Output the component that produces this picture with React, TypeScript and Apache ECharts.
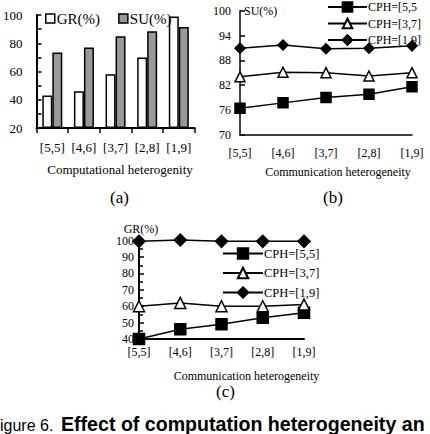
import React, { useEffect, useRef } from "react";
import * as echarts from "echarts";

// Panel (a): computational heterogeneity bar chart
const compCategories = ["[5,5]", "[4,6]", "[3,7]", "[2,8]", "[1,9]"];
const grValues = [43, 46, 58, 70, 99];
const suValues = [73.5, 77, 85, 88.5, 91.5];

// Panels (b) and (c): communication heterogeneity line charts
const commCategories = ["[5,5]", "[4,6]", "[3,7]", "[2,8]", "[1,9]"];

const suCph55 = [76.4, 77.7, 79.0, 79.8, 81.6];
const suCph37 = [84.0, 85.1, 85.0, 84.2, 85.0];
const suCph19 = [90.9, 91.7, 90.8, 90.9, 91.5];

const grCph55 = [40, 46, 49, 53, 56];
const grCph37 = [60, 62, 60, 60, 61];
const grCph19 = [99.6, 100.4, 99.6, 99.6, 99.6];

const suNames = ["CPH=[5,5", "CPH=[3,7]", "CPH=[1,9]"];
const grNames = ["CPH=[5,5]", "CPH=[3,7]", "CPH=[1,9]"];

const captionLead = "igure 6.";
const captionBold = "Effect of computation heterogeneity an";

const SERIF = "'Liberation Serif', 'Times New Roman', serif";
const SANS = "'Liberation Sans', Arial, sans-serif";
const BLACK = "#000";

const lineSeries = (
  name: string,
  data: number[],
  idx: number,
  symbol: string,
  size: number,
  fill: string
) => ({
  type: "line",
  name,
  data,
  xAxisIndex: idx,
  yAxisIndex: idx,
  symbol,
  symbolSize: size,
  showSymbol: true,
  clip: false,
  lineStyle: { color: BLACK, width: 1.5 },
  itemStyle: { color: fill, borderColor: BLACK, borderWidth: 1.5 },
  emphasis: { disabled: true },
});

export default function App() {
  const ref = useRef<HTMLDivElement>(null);

  useEffect(() => {
    if (!ref.current) return;
    const chart = echarts.init(ref.current, null, { renderer: "svg" });

    const yAxisCommon = {
      type: "value",
      axisLine: { show: true, lineStyle: { color: BLACK, width: 2 } },
      axisTick: { show: true, inside: true, length: 5, lineStyle: { color: BLACK, width: 1.5 } },
      splitLine: { show: false },
    };

    chart.setOption({
      animation: false,
      backgroundColor: "#fff",
      textStyle: { fontFamily: SERIF, color: BLACK },
      grid: [
        { left: 30.6, top: 15, width: 164, height: 113 },
        { left: 240, top: 10.7, width: 172, height: 124 },
        { left: 139, top: 240.7, width: 165, height: 98.3 },
      ],
      legend: [
        {
          data: [
            { name: "GR(%)", itemStyle: { color: "#fff", borderColor: BLACK, borderWidth: 1.5 } },
            { name: "SU(%)", itemStyle: { color: "#999", borderColor: BLACK, borderWidth: 1.5 } },
          ],
          left: 45,
          top: 11,
          padding: 0,
          icon: "rect",
          itemWidth: 9,
          itemHeight: 9,
          itemGap: 18,
          textStyle: { fontFamily: SERIF, fontSize: 15, color: BLACK, padding: [0, 0, 0, -3] },
          selectedMode: false,
        },
        {
          data: suNames,
          orient: "vertical",
          left: 327,
          top: 1,
          padding: 0,
          itemWidth: 39,
          itemHeight: 12,
          itemGap: 4.5,
          textStyle: { fontFamily: SERIF, fontSize: 12, color: BLACK, padding: [0, 0, 0, -4] },
          selectedMode: false,
        },
        {
          data: grNames,
          orient: "vertical",
          left: 222,
          top: 247,
          padding: 0,
          itemWidth: 40,
          itemHeight: 13,
          itemGap: 6.5,
          textStyle: { fontFamily: SERIF, fontSize: 12.5, color: BLACK, padding: [0, 0, 0, -4] },
          selectedMode: false,
        },
      ],
      xAxis: [
        {
          type: "category",
          gridIndex: 0,
          data: compCategories,
          boundaryGap: true,
          axisLine: { show: true, lineStyle: { color: BLACK, width: 2 } },
          axisTick: { show: true, inside: false, length: 5, lineStyle: { color: BLACK, width: 1.5 } },
          axisLabel: { interval: 0, fontFamily: SERIF, fontSize: 13, color: BLACK, margin: 13 },
          name: "Computational heterogenity",
          nameLocation: "middle",
          nameGap: 35,
          nameTextStyle: { fontFamily: SERIF, fontSize: 13, color: BLACK, padding: [0, 0, 0, 9] },
        },
        {
          type: "category",
          gridIndex: 1,
          data: commCategories,
          boundaryGap: false,
          axisLine: { show: true, lineStyle: { color: BLACK, width: 1.5 } },
          axisTick: { show: false },
          axisLabel: { interval: 0, fontFamily: SERIF, fontSize: 12, color: BLACK, margin: 12 },
          name: "Communication heterogeneity",
          nameLocation: "middle",
          nameGap: 31,
          nameTextStyle: { fontFamily: SERIF, fontSize: 12, color: BLACK, padding: [0, 0, 0, 24] },
        },
        {
          type: "category",
          gridIndex: 2,
          data: commCategories,
          boundaryGap: false,
          axisLine: { show: true, lineStyle: { color: BLACK, width: 2 } },
          axisTick: { show: false },
          axisLabel: { interval: 0, fontFamily: SERIF, fontSize: 12, color: BLACK, margin: 7 },
          name: "Communication heterogeneity",
          nameLocation: "middle",
          nameGap: 31,
          nameTextStyle: { fontFamily: SERIF, fontSize: 12, color: BLACK, padding: [0, 0, 0, 50] },
        },
      ],
      yAxis: [
        {
          ...yAxisCommon,
          gridIndex: 0,
          min: 20,
          max: 100,
          interval: 20,
          startValue: 20,
          minorTick: { show: true, splitNumber: 2, length: 5, lineStyle: { color: BLACK, width: 1.5 } },
          axisLabel: { fontFamily: SERIF, fontSize: 13, color: BLACK, margin: 14 },
        },
        {
          ...yAxisCommon,
          gridIndex: 1,
          min: 70,
          max: 100,
          interval: 6,
          axisLine: { show: true, lineStyle: { color: BLACK, width: 1.5 } },
          axisLabel: { fontFamily: SERIF, fontSize: 12, color: BLACK, margin: 9 },
          name: "SU(%)",
          nameLocation: "end",
          nameGap: 0,
          nameTextStyle: {
            fontFamily: SERIF,
            fontSize: 12,
            color: BLACK,
            align: "left",
            verticalAlign: "middle",
            padding: [0, 0, 0, 4],
          },
        },
        {
          ...yAxisCommon,
          gridIndex: 2,
          min: 40,
          max: 100,
          interval: 10,
          minorTick: { show: true, splitNumber: 2, length: 4, lineStyle: { color: BLACK, width: 1.5 } },
          axisLabel: { fontFamily: SERIF, fontSize: 12, color: BLACK, margin: 5 },
          name: "GR(%)",
          nameLocation: "end",
          nameGap: 6,
          nameTextStyle: { fontFamily: SERIF, fontSize: 12, color: BLACK, padding: [0, 0, 0, 4] },
        },
      ],
      series: [
        {
          type: "bar",
          name: "GR(%)",
          data: grValues,
          xAxisIndex: 0,
          yAxisIndex: 0,
          barWidth: 10,
          barGap: "0%",
          itemStyle: { color: "#fff", borderColor: BLACK, borderWidth: 1.5 },
          emphasis: { disabled: true },
        },
        {
          type: "bar",
          name: "SU(%)",
          data: suValues,
          xAxisIndex: 0,
          yAxisIndex: 0,
          barWidth: 10,
          barGap: "0%",
          itemStyle: { color: "#999", borderColor: BLACK, borderWidth: 1.5 },
          emphasis: { disabled: true },
        },
        lineSeries(suNames[0], suCph55, 1, "rect", 10, BLACK),
        lineSeries(suNames[1], suCph37, 1, "triangle", 10, "#fff"),
        lineSeries(suNames[2], suCph19, 1, "diamond", 10, BLACK),
        lineSeries(grNames[0], grCph55, 2, "rect", 11, BLACK),
        lineSeries(grNames[1], grCph37, 2, "triangle", 11, "#fff"),
        lineSeries(grNames[2], grCph19, 2, "diamond", 12, BLACK),
      ],
      graphic: [
        {
          type: "text",
          left: 110,
          top: 189,
          style: { text: "(a)", font: `17px ${SERIF}`, fill: BLACK },
        },
        {
          type: "text",
          left: 323,
          top: 189,
          style: { text: "(b)", font: `17px ${SERIF}`, fill: BLACK },
        },
        {
          type: "text",
          left: 216,
          top: 383,
          style: { text: "(c)", font: `17px ${SERIF}`, fill: BLACK },
        },
        {
          type: "text",
          x: 0,
          y: 434,
          style: {
            text: captionLead,
            font: `16px ${SANS}`,
            fill: BLACK,
            verticalAlign: "bottom",
            lineHeight: 18,
          },
        },
        {
          type: "text",
          x: 61,
          y: 434,
          style: {
            text: captionBold,
            font: `bold 19.6px ${SANS}`,
            fill: BLACK,
            verticalAlign: "bottom",
            lineHeight: 20,
          },
        },
      ],
    });

    return () => chart.dispose();
  }, []);

  return (
    <div
      ref={ref}
      style={{ position: "absolute", left: 0, top: 0, width: 430, height: 434, background: "#fff" }}
    />
  );
}
